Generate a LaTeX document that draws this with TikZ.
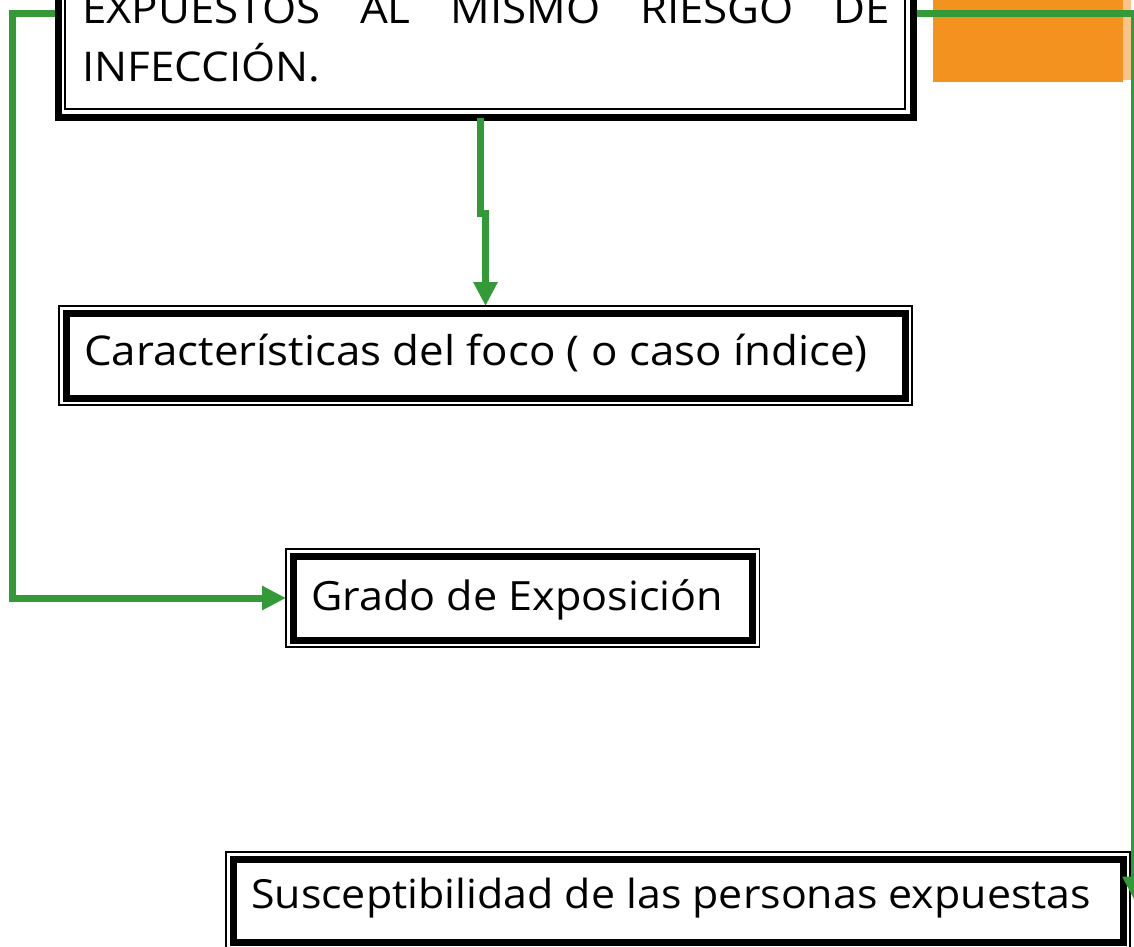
\documentclass[tikz,border=0pt]{standalone}
\usepackage{fontspec}
\setmainfont{Open Sans}[FakeStretch=1.07]
\usetikzlibrary{arrows.meta,calc}
\definecolor{cgreen}{RGB}{52,154,56}
\definecolor{corange}{RGB}{244,146,32}
\definecolor{cpale}{RGB}{250,195,140}
\begin{document}
\begin{tikzpicture}[x=1pt,y=-1pt,
  thinbox/.style={draw, line width=1.5pt, inner sep=0pt, outer sep=0pt},
  thickbox/.style={draw, line width=7pt, inner sep=0pt, outer sep=0pt},
  thickline/.style={line width=7pt},
  thinline/.style={line width=1.5pt},
  conn/.style={draw=cgreen, line width=7pt, -{Triangle[length=24pt,width=23pt]}},
  txt/.style={anchor=base west, inner sep=0pt, font=\fontsize{41pt}{48pt}\selectfont},
  toptxt/.style={anchor=base west, inner sep=0pt, font=\fontsize{41pt}{52pt}\selectfont}
]
\useasboundingbox (0,0) rectangle (1134,946);
\clip (0,0) rectangle (1134,946);
% orange block
\fill[corange] (933,0) rectangle (1123,82);
\fill[cpale] (1123,0) rectangle (1131,80);
% top box
\node[thickbox, minimum width=855pt, minimum height=217pt] (top) at (486,8.5) {};
\draw[thinline] ([shift={(6.5,-20)}]top.north west) rectangle ([shift={(-8.5,-8)}]top.south east);
\node[toptxt] (t1a) at (82,23) {\makebox[808pt][s]{EXPUESTOS\hfill AL\hfill MISMO\hfill RIESGO\hfill DE}};
\node[toptxt] (t1b) at (82,81) {INFECCIÓN.};
% box 2
\node[thinbox, minimum width=853pt, minimum height=99pt] (box2) at (485.5,355.5) {};
\draw[thickline] ([shift={(7.5,7.5)}]box2.north west) rectangle ([shift={(-7,-7)}]box2.south east);
\node[txt] (t2) at (84,365) {Características del foco ( o caso índice)};
% box 3
\node[thinbox, minimum width=473.5pt, minimum height=98pt] (box3) at (522.75,598) {};
\draw[thickline] ([shift={(7,7.5)}]box3.north west) rectangle ([shift={(-7.5,-7)}]box3.south east);
\node[txt, font=\fontsize{40.3pt}{48pt}\selectfont] (t3) at (311,610) {Grado de Exposición};
% box 4
\node[thinbox, minimum width=904pt, minimum height=97pt] (box4) at (678,900.5) {};
\draw[thickline] ([shift={(7.5,7)}]box4.north west) rectangle ([shift={(-7,-7)}]box4.south east);
\node[txt, font=\fontsize{40.1pt}{48pt}\selectfont] (t4) at (251,908) {Susceptibilidad de las personas expuestas};
% connectors
\coordinate (lc) at (12.5,13);
\coordinate (rc) at (1134.5,13);
\coordinate (jog) at (480.5,213);
\draw[conn, shorten <=3.5pt] (top.west |- lc) -- (lc) |- (box3.west);
\draw[conn, shorten <=1pt] (top.south -| jog) -- (jog) -- (jog -| box2.north) -- (box2.north);
\draw[conn, shorten <=3.5pt] (top.east |- rc) -- (rc) -- (rc |- box4.east);
\end{tikzpicture}
\end{document}
